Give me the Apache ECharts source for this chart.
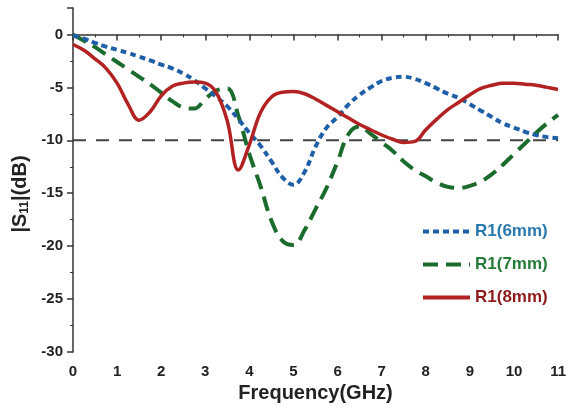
<!DOCTYPE html>
<html>
<head>
<meta charset="utf-8">
<script src="https://cdn.jsdelivr.net/npm/echarts@6/dist/echarts.min.js"></script>
<style>
  html, body { margin: 0; padding: 0; background: #fff; }
  #chart { width: 569px; height: 411px; }
</style>
</head>
<body>
<div id="chart"></div>
<script>
// frequency (GHz), 0.25 step
const freq = [0, 0.25, 0.5, 0.75, 1, 1.25, 1.5, 1.75, 2, 2.25, 2.5, 2.75, 3, 3.25, 3.5, 3.75,
  4, 4.25, 4.5, 4.75, 5, 5.25, 5.5, 5.75, 6, 6.25, 6.5, 6.75, 7, 7.25, 7.5, 7.75,
  8, 8.25, 8.5, 8.75, 9, 9.25, 9.5, 9.75, 10, 10.25, 10.5, 10.75, 11];

// |S11| (dB)
const r6mm = [-0.1, -0.4, -0.8, -1.15, -1.45, -1.75, -2.1, -2.45, -2.85, -3.2, -3.7, -4.3, -5.1, -5.9, -6.8, -8.0,
  -9.3, -10.5, -12.0, -13.5, -14.2, -13.0, -10.6, -8.8, -7.8, -6.6, -5.7, -5.0, -4.4, -4.1, -4.0, -4.2,
  -4.6, -5.1, -5.6, -6.0, -6.6, -7.2, -7.8, -8.4, -8.8, -9.2, -9.5, -9.7, -9.8];
const r7mm = [0, -0.6, -1.2, -1.9, -2.6, -3.3, -4.0, -4.7, -5.5, -6.3, -6.9, -7.0, -6.1, -5.3, -5.1, -7.7,
  -11.3, -14.3, -17.6, -19.5, -19.9, -18.5, -16.5, -14.5, -12.0, -9.4, -8.7, -9.4, -10.2, -11.0, -12.0, -12.8,
  -13.4, -14.0, -14.4, -14.5, -14.3, -13.9, -13.2, -12.3, -11.3, -10.3, -9.3, -8.4, -7.6];
const r8mm = [-0.95, -1.5, -2.3, -3.2, -4.6, -6.6, -8.1, -7.3, -5.8, -4.9, -4.6, -4.5, -4.6, -5.5, -8.2, -12.8,
  -10.4, -7.4, -5.9, -5.45, -5.4, -5.6, -6.1, -6.7, -7.3, -7.9, -8.5, -9.0, -9.5, -9.9, -10.2, -10.1,
  -9.0, -8.0, -7.1, -6.4, -5.7, -5.1, -4.8, -4.6, -4.6, -4.7, -4.8, -5.0, -5.2];

// -10 dB reference
const refFreq = [0, 11];
const refLevel = -10;

const names = ['R1(6mm)', 'R1(7mm)', 'R1(8mm)'];
const colors = ['#1f5fa8', '#1b6b2c', '#b22222'];
const textColors = ['#2a78b0', '#257a38', '#8e1b1b'];

const pairs = (ys) => freq.map((x, i) => [x, ys[i]]);

const chart = echarts.init(document.getElementById('chart'));
const font = 'Liberation Sans, Arial, sans-serif';

const option = {
  animation: false,
  grid: { left: 73, right: 7, top: 8, bottom: 59 },
  legend: {
    orient: 'vertical',
    left: 416,
    top: 218,
    itemWidth: 47,
    itemHeight: 14,
    itemGap: 16,
    itemStyle: { opacity: 0 },
    lineStyle: { width: 4 },
    textStyle: { fontFamily: font, fontWeight: 'bold', fontSize: 17 },
    data: names.map((n, i) => ({ name: n, textStyle: { color: textColors[i] } }))
  },
  xAxis: {
    type: 'value',
    min: 0, max: 11, interval: 1,
    name: 'Frequency(GHz)',
    nameLocation: 'middle',
    nameGap: 30,
    nameTextStyle: { fontFamily: font, fontWeight: 'bold', fontSize: 20, color: '#222' },
    axisLine: { lineStyle: { color: '#333', width: 1.5 } },
    axisTick: { length: 6, lineStyle: { color: '#333', width: 1.5 } },
    minorTick: { show: true, splitNumber: 2, length: 3, lineStyle: { color: '#333' } },
    axisLabel: { margin: 12, fontFamily: font, fontWeight: 'bold', fontSize: 15, color: '#222' },
    splitLine: { show: false }
  },
  yAxis: {
    type: 'value',
    min: -30, max: 2.5, interval: 5,
    name: '|S{sub|11}|(dB)',
    nameLocation: 'middle',
    nameGap: 40,
    nameTextStyle: {
      fontFamily: font, fontWeight: 'bold', fontSize: 20, color: '#222',
      padding: [0, 28, 0, 0],
      rich: { sub: { fontFamily: font, fontWeight: 'bold', fontSize: 12, color: '#222', verticalAlign: 'bottom', padding: [8, 0, 0, 0] } }
    },
    axisLine: { show: true, lineStyle: { color: '#333', width: 1.5 } },
    axisTick: { length: 6, lineStyle: { color: '#333', width: 1.5 } },
    minorTick: { show: true, splitNumber: 2, length: 3, lineStyle: { color: '#333' } },
    axisLabel: {
      margin: 10, fontFamily: font, fontWeight: 'bold', fontSize: 15, color: '#222',
      formatter: (v) => (v > 0 ? '' : String(v))
    },
    splitLine: { show: false }
  },
  series: [
    {
      name: names[0], type: 'line', smooth: 0.4, symbol: 'none',
      data: pairs(r6mm),
      itemStyle: { color: colors[0] },
      lineStyle: { color: colors[0], width: 4, type: [6, 4] },
      z: 3
    },
    {
      name: names[1], type: 'line', smooth: 0.4, symbol: 'none',
      data: pairs(r7mm),
      itemStyle: { color: colors[1] },
      lineStyle: { color: colors[1], width: 4, type: [15, 8] },
      z: 2
    },
    {
      name: names[2], type: 'line', smooth: 0.4, symbol: 'none',
      data: pairs(r8mm),
      itemStyle: { color: colors[2] },
      lineStyle: { color: colors[2], width: 3.5 },
      z: 4
    },
    {
      name: 'ref', type: 'line', symbol: 'none', silent: true,
      data: refFreq.map((x) => [x, refLevel]),
      lineStyle: { color: '#444', width: 2, type: [13, 10] },
      z: 1
    }
  ]
};

chart.setOption(option);
</script>
</body>
</html>
